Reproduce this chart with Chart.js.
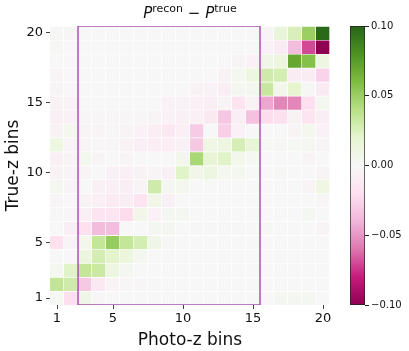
<!DOCTYPE html>
<html>
<head>
<meta charset="utf-8">
<script src="https://cdn.jsdelivr.net/npm/chart.js@4"></script>
<style>
  body { margin: 0; background: #fff; }
  #wrap { position: relative; width: 409px; height: 351px; font-family: "DejaVu Sans", sans-serif; }
  #main { position: absolute; left: 0; top: 0; width: 340px; height: 351px; }
  #cbar { position: absolute; left: 330px; top: 0; width: 79px; height: 351px; }
  #title { position: absolute; left: 50px; width: 280px; top: -2px; text-align: center; font-size: 15px; color: #111; line-height: 22px; }
  #title sup { font-size: 11px; }
</style>
</head>
<body>
<div id="wrap">
  <div id="main"><canvas id="heat"></canvas></div>
  <div id="cbar"><canvas id="bar"></canvas></div>
  <div id="title"><i>P</i><sup>recon</sup> − <i>P</i><sup>true</sup></div>
</div>
<script>
// bins and tick labels
const photoBins = [1,2,3,4,5,6,7,8,9,10,11,12,13,14,15,16,17,18,19,20];
const binTicks = [1, 5, 10, 15, 20];
const cbarTicks = [-0.1, -0.05, 0, 0.05, 0.1];
const vmin = -0.1, vmax = 0.1;
// selected photo-z range (box): x from, x to, y from, y to
const boxX = [2.5, 15.5];
const boxY = [0.5, 20.5];

// P_recon - P_true, rows listed from true-z bin 20 (top) down to bin 1
const diffRows = [
  [0.001,0.001,0,0,0,0,0,0,0,0,0,0,0,0,0,-0.003,0.016,0.026,0.05,0.098],
  [0.001,0,0,0,0,0,0,0,0,0,0,0,0,0,0,-0.005,-0.011,-0.036,-0.07,-0.1],
  [0,0,0,0,0,0,0,0,0,0,0,0,0,-0.003,-0.005,0.008,0.013,0.07,0.058,0.012],
  [-0.003,0,0,0,0,0,0,0,0,0,0,0,-0.004,0.004,0.012,0.03,0.028,-0.01,-0.01,-0.026],
  [-0.003,0,0,0,0,0,0,0,0,0,-0.004,-0.005,-0.008,0.004,0.004,0.033,0.006,0.02,0.001,-0.011],
  [-0.004,-0.004,0,0,0,0,0,0,-0.005,-0.005,-0.007,-0.008,-0.003,-0.017,-0.004,-0.045,-0.055,-0.055,-0.02,0.004],
  [-0.007,-0.004,-0.002,-0.002,-0.002,-0.002,-0.002,-0.003,-0.005,-0.006,-0.007,-0.012,-0.032,-0.008,-0.035,-0.022,-0.02,-0.004,-0.016,-0.008],
  [-0.004,0.005,-0.003,-0.003,-0.002,-0.003,-0.005,-0.009,-0.013,-0.007,-0.03,0,-0.028,-0.005,0,0,0,-0.003,0.005,-0.005],
  [0.012,-0.003,-0.003,-0.002,-0.002,-0.004,-0.008,-0.009,-0.009,-0.006,-0.031,0.01,0.011,0.027,0.016,0.002,0.001,0.002,0.003,-0.003],
  [-0.007,-0.003,0.005,-0.003,0,-0.003,0,0,0,0.006,0.045,0.018,0.022,0.006,0.002,0,0,0,-0.003,0],
  [-0.004,-0.003,-0.003,0,-0.006,-0.006,-0.004,-0.003,-0.006,0.022,0.007,0.012,0.005,0.004,0,0,0.001,0,0,-0.003],
  [0.004,-0.003,0,-0.006,-0.007,-0.008,-0.003,0.03,0.003,0.005,0,0,0,0,0,0,0,0,-0.003,0.01],
  [-0.003,0,-0.004,-0.007,-0.011,-0.008,-0.016,0.007,-0.006,0,0,0,0,0,0,0,0,0,0,-0.002],
  [-0.001,-0.001,-0.007,-0.016,-0.016,-0.022,0.007,-0.005,0.003,0.003,0,0,0,0,0,0,0,0,0.003,0],
  [0,-0.008,-0.019,-0.037,-0.036,0,0,0.003,0.004,0,-0.001,-0.001,-0.001,-0.001,0,0.002,0,0,0,-0.003],
  [-0.019,-0.003,0.006,0.035,0.052,0.035,0.028,0.008,0.001,0,0,0,0,0,0,0,0,0,0,0],
  [0,0,0.013,0.028,0.021,0.014,0.003,0,0,0,0,0,0,0,0,0,0,0,0,0],
  [0.004,0.022,0.035,0.032,0.012,0.003,0,0,0,0,0,0,0,0,0,0,0,0,0,0],
  [0.036,0.03,-0.031,-0.013,-0.003,-0.002,-0.002,-0.001,0,0,0,0,0,0,0,0,0,0,0,0],
  [0.002,-0.02,0.008,-0.002,0,0,0,0,0,0,0,0,0,0,0,0,0.003,0.003,0.003,0]
];

// matplotlib PiYG
const piyg = [[142,1,82],[197,27,125],[222,119,174],[241,182,218],[253,224,239],[247,247,247],
              [230,245,208],[184,225,134],[127,188,65],[77,146,33],[39,100,25]];
function cmap(v) {
  let t = (v - vmin) / (vmax - vmin);
  t = Math.max(0, Math.min(1, t));
  const p = t * 10;
  const i = Math.min(9, Math.floor(p));
  const f = p - i;
  const a = piyg[i], b = piyg[i + 1];
  const c = a.map((x, k) => Math.round(x + (b[k] - x) * f));
  return `rgb(${c[0]},${c[1]},${c[2]})`;
}

const font = "DejaVu Sans";
const nRows = diffRows.length;

const cellSets = diffRows.map((row, i) => {
  const tz = nRows - i;
  return {
    type: "bar",
    data: photoBins.map(p => ({ x: p, y: [tz - 0.5, tz + 0.5] })),
    backgroundColor: row.map(cmap),
    borderColor: "#ffffff",
    borderWidth: { top: 1, right: 1, left: 0, bottom: 0 },
    borderSkipped: false,
    barPercentage: 1,
    categoryPercentage: 1,
    grouped: false,
    order: 2
  };
});

const boxSet = {
  type: "line",
  data: [
    { x: boxX[0], y: boxY[0] }, { x: boxX[0], y: boxY[1] },
    { x: boxX[1], y: boxY[1] }, { x: boxX[1], y: boxY[0] },
    { x: boxX[0], y: boxY[0] }
  ],
  borderColor: "rgba(150,40,160,0.8)",
  borderWidth: 1.5,
  pointRadius: 0,
  fill: false,
  order: 0
};

const axisTicks = (axis) => { axis.ticks = binTicks.map(v => ({ value: v })); };

new Chart(document.getElementById("heat"), {
  type: "bar",
  data: { datasets: [...cellSets, boxSet] },
  options: {
    responsive: true,
    maintainAspectRatio: false,
    animation: false,
    layout: { padding: { top: 26, right: 10, left: 0, bottom: 0 } },
    plugins: { legend: { display: false }, tooltip: { enabled: false } },
    scales: {
      x: {
        type: "linear",
        min: 0.5, max: 20.5,
        offset: false,
        afterBuildTicks: axisTicks,
        afterFit: s => { s.height = 46; },
        border: { display: false },
        grid: { drawOnChartArea: false, drawTicks: true, tickLength: 4, color: "#444", offset: false },
        ticks: { font: { family: font, size: 13 }, color: "#111", padding: 2, maxRotation: 0 },
        title: { display: true, text: "Photo-z bins", font: { family: font, size: 17 }, color: "#111", padding: { top: 0, bottom: 0 } }
      },
      y: {
        type: "linear",
        min: 0.5, max: 20.5,
        afterBuildTicks: axisTicks,
        afterFit: s => { s.width = 50; },
        border: { display: false },
        grid: { drawOnChartArea: false, drawTicks: true, tickLength: 4, color: "#444" },
        ticks: { font: { family: font, size: 13 }, color: "#111", padding: 3 },
        title: { display: true, text: "True-z bins", font: { family: font, size: 17 }, color: "#111", padding: { top: 3, bottom: 2 } }
      }
    }
  }
});

// colorbar
new Chart(document.getElementById("bar"), {
  type: "bar",
  data: {
    labels: [""],
    datasets: [{
      data: [[vmin, vmax]],
      backgroundColor: (ctx) => {
        const area = ctx.chart.chartArea;
        if (!area) return "#f7f7f7";
        const g = ctx.chart.ctx.createLinearGradient(0, area.bottom, 0, area.top);
        piyg.forEach((c, i) => g.addColorStop(i / 10, `rgb(${c[0]},${c[1]},${c[2]})`));
        return g;
      },
      borderColor: "#222",
      borderWidth: 1,
      borderSkipped: false,
      barPercentage: 1,
      categoryPercentage: 1
    }]
  },
  options: {
    responsive: true,
    maintainAspectRatio: false,
    animation: false,
    layout: { padding: { top: 26, left: 20, right: 0, bottom: 46 } },
    plugins: { legend: { display: false }, tooltip: { enabled: false } },
    scales: {
      x: { display: false },
      y: {
        position: "right",
        min: vmin, max: vmax,
        afterBuildTicks: axis => { axis.ticks = cbarTicks.map(v => ({ value: v })); },
        afterFit: s => { s.width = 44; },
        border: { display: false },
        grid: { drawOnChartArea: false, drawTicks: true, tickLength: 4, color: "#222" },
        ticks: {
          font: { family: font, size: 10 }, color: "#111", padding: 2,
          callback: v => v.toFixed(2).replace("-", "\u2212")
        }
      }
    }
  }
});
</script>
</body>
</html>
